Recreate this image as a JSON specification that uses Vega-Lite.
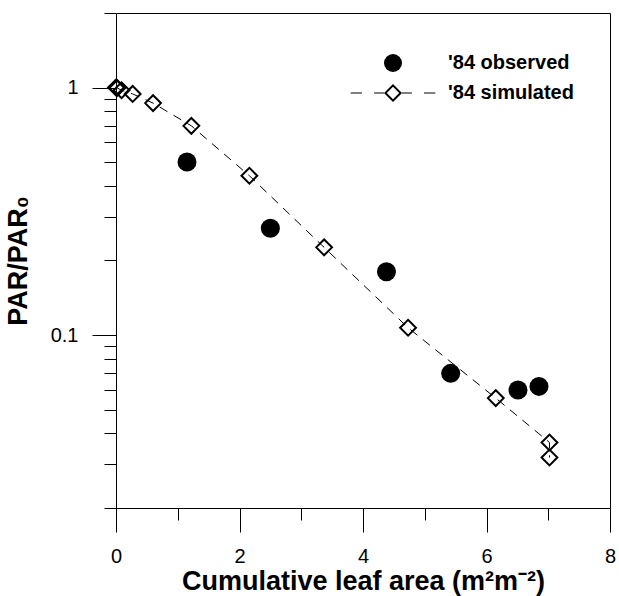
{
  "$schema": "https://vega.github.io/schema/vega-lite/v6.json",
  "autosize": {"type": "none"},
  "padding": {"left": 116, "top": 13, "right": 9, "bottom": 88},
  "width": 494,
  "height": 495,
  "config": {
    "font": "Liberation Sans",
    "view": {"stroke": "black", "strokeWidth": 1},
    "axis": {
      "grid": false,
      "domainColor": "black",
      "domainWidth": 1,
      "tickColor": "black",
      "tickWidth": 1,
      "labelColor": "black",
      "titleColor": "black",
      "labelFont": "Liberation Sans",
      "titleFont": "Liberation Sans",
      "labelFontSize": 20,
      "titleFontSize": 27,
      "titleFontWeight": "bold",
      "labelFlush": false,
      "labelOverlap": false
    }
  },
  "data": {
    "values": [
      {"series": "'84 observed", "x": 1.15, "y": 0.50},
      {"series": "'84 observed", "x": 2.50, "y": 0.27},
      {"series": "'84 observed", "x": 4.38, "y": 0.18},
      {"series": "'84 observed", "x": 5.42, "y": 0.070},
      {"series": "'84 observed", "x": 6.51, "y": 0.060},
      {"series": "'84 observed", "x": 6.85, "y": 0.062},
      {"series": "'84 simulated", "x": 0.0, "y": 1.0},
      {"series": "'84 simulated", "x": 0.02, "y": 0.995},
      {"series": "'84 simulated", "x": 0.09, "y": 0.975},
      {"series": "'84 simulated", "x": 0.27, "y": 0.942},
      {"series": "'84 simulated", "x": 0.60, "y": 0.865},
      {"series": "'84 simulated", "x": 1.22, "y": 0.70},
      {"series": "'84 simulated", "x": 2.16, "y": 0.44},
      {"series": "'84 simulated", "x": 3.37, "y": 0.226},
      {"series": "'84 simulated", "x": 4.73, "y": 0.107},
      {"series": "'84 simulated", "x": 6.15, "y": 0.0556},
      {"series": "'84 simulated", "x": 7.02, "y": 0.0368},
      {"series": "'84 simulated", "x": 7.02, "y": 0.0320}
    ]
  },
  "layer": [
    {
      "transform": [{"filter": {"field": "series", "equal": "'84 simulated"}}],
      "mark": {"type": "line", "color": "black", "strokeWidth": 1, "strokeDash": [9, 7]},
      "encoding": {
        "x": {
          "field": "x", "type": "quantitative",
          "scale": {"domain": [0, 8], "nice": false, "zero": false},
          "axis": {"orient": "bottom", "values": [0, 2, 4, 6, 8], "tickSize": 24, "labelPadding": 14, "title": "Cumulative leaf area (m²m⁻²)", "titlePadding": 2}
        },
        "y": {
          "field": "y", "type": "quantitative",
          "scale": {"type": "log", "domain": [0.02, 2], "nice": false},
          "axis": {"orient": "left", "values": [0.1, 1], "tickSize": 24, "labelPadding": 14, "format": "~g", "title": "PAR/PAR₀", "titlePadding": 18}
        },
        "order": {"field": "y", "sort": "descending"}
      }
    },
    {
      "transform": [{"filter": {"field": "series", "equal": "'84 observed"}}],
      "mark": {"type": "point", "filled": true, "color": "black", "size": 361, "opacity": 1},
      "encoding": {
        "x": {"field": "x", "type": "quantitative", "axis": {"orient": "bottom", "values": [1, 3, 5, 7], "tickSize": 12, "labels": false, "domain": false, "title": null}},
        "y": {"field": "y", "type": "quantitative", "axis": {"orient": "left", "values": [0.02, 0.03, 0.04, 0.05, 0.06, 0.07, 0.08, 0.09, 0.2, 0.3, 0.4, 0.5, 0.6, 0.7, 0.8, 0.9, 2], "tickSize": 12, "labels": false, "domain": false, "title": null}},
        "shape": {
          "field": "series", "type": "nominal",
          "scale": {
            "domain": ["'84 observed", "'84 simulated"],
            "range": ["circle", "M-4.7,-0.06H-3.45V0.06H-4.7ZM-2.1,-0.06H-1V0.06H-2.1ZM1,-0.06H2.1V0.06H1ZM3.45,-0.06H4.7V0.06H3.45ZM-1,0L0,-1L1,0L0,1ZM-0.686,0L0,0.686L0.686,0L0,-0.686Z"]
          },
          "legend": {
            "orient": "none", "legendX": 267, "legendY": 40, "title": null, "padding": 0,
            "labelFont": "Liberation Sans", "labelFontSize": 20, "labelFontWeight": "bold", "labelColor": "black",
            "symbolSize": 324, "symbolStrokeWidth": 0, "symbolOpacity": 1, "symbolFillColor": "black",
            "labelOffset": 45, "rowPadding": 10, "labelLimit": 300
          }
        }
      }
    },
    {
      "transform": [{"filter": {"field": "series", "equal": "'84 simulated"}}],
      "mark": {"type": "point", "shape": "diamond", "filled": false, "color": "black", "strokeWidth": 2, "size": 250, "opacity": 1},
      "encoding": {
        "x": {"field": "x", "type": "quantitative", "axis": null},
        "y": {"field": "y", "type": "quantitative", "axis": null}
      }
    }
  ],
  "resolve": {"axis": {"x": "independent", "y": "independent"}}
}
